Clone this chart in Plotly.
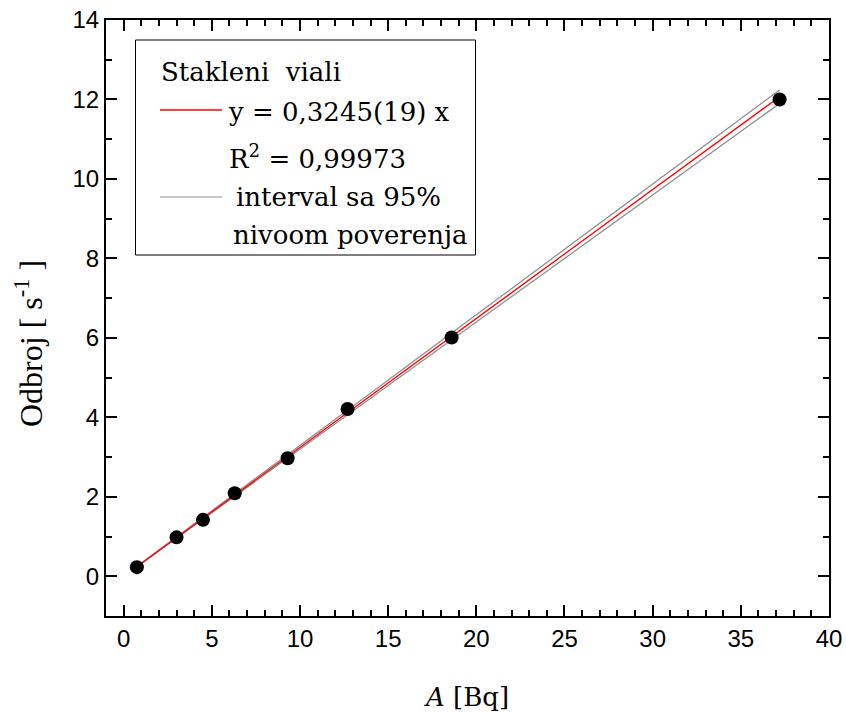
import plotly.graph_objects as go

# ---- data ----
activity_bq = [0.75, 3.0, 4.5, 6.3, 9.3, 12.7, 18.6, 37.2]
count_rate = [0.23, 0.98, 1.42, 2.09, 2.97, 4.21, 6.01, 12.0]

fit_x = [0.75, 37.2]
fit_y = [0.24, 12.07]
upper_y = [0.25, 12.24]
lower_y = [0.24, 11.90]

x_ticks = [0, 5, 10, 15, 20, 25, 30, 35, 40]
y_ticks = [0, 2, 4, 6, 8, 10, 12, 14]

legend_title = "Stakleni  viali"
fit_label = "y = 0,3245(19) x"
r2_label = "R<sup>2</sup> = 0,99973"
band_label1 = "interval sa 95%"
band_label2 = "nivoom poverenja"
x_title = "<i>A</i> [Bq]"
y_title = "Odbroj [ s<sup>-1</sup> ]"

# ---- layout geometry (screen pixels; page body margin removed by post_script) ----
W, H = 846, 713
L, R, T, B = 106, 829, 20, 616  # plot area
PW, PH = R - L, B - T


def px(x):
    return (x - L) / PW


def py(y):
    return (B - y) / PH


SERIF = "DejaVu Serif, Liberation Serif, serif"
SERIF2 = "Liberation Serif, DejaVu Serif, serif"
TICKFONT = "Liberation Sans, Arial, sans-serif"

fig = go.Figure()
fig.add_trace(go.Scatter(x=fit_x, y=upper_y, mode="lines",
                         line=dict(color="#8c8c8c", width=1.3), showlegend=False))
fig.add_trace(go.Scatter(x=fit_x, y=lower_y, mode="lines",
                         line=dict(color="#8c8c8c", width=1.3), showlegend=False))
fig.add_trace(go.Scatter(x=fit_x, y=fit_y, mode="lines",
                         line=dict(color="#ff0000", width=1.3), showlegend=False))
fig.add_trace(go.Scatter(x=activity_bq, y=count_rate, mode="markers",
                         marker=dict(color="black", size=14), showlegend=False))

axis_common = dict(
    showline=True, linecolor="black", linewidth=2, mirror="allticks",
    ticks="inside", ticklen=11, tickwidth=2, tickcolor="black",
    showgrid=False, zeroline=False, automargin=False,
    ticklabeloverflow="allow",
    tickfont=dict(family=TICKFONT, size=24, color="black"),
)

fig.update_xaxes(
    range=[-1, 40], tickvals=x_ticks,
    minor=dict(ticks="inside", dtick=1, tick0=0, ticklen=6, tickwidth=1.5, tickcolor="black", showgrid=False),
    **axis_common,
)
fig.update_yaxes(
    range=[-1, 14], tickvals=y_ticks,
    minor=dict(ticks="inside", dtick=1, tick0=0, ticklen=6, tickwidth=1.5, tickcolor="black", showgrid=False),
    **axis_common,
)

shapes = [
    dict(type="rect", xref="paper", yref="paper", x0=px(135.5), x1=px(475.5), y0=py(255), y1=py(40),
         line=dict(color="black", width=1), fillcolor="white", layer="above"),
    dict(type="line", xref="paper", yref="paper", x0=px(160), x1=px(222), y0=py(110), y1=py(110),
         line=dict(color="#ff0000", width=1.3)),
    dict(type="line", xref="paper", yref="paper", x0=px(160), x1=px(222), y0=py(197), y1=py(197),
         line=dict(color="#b4b4b4", width=1.3)),
]

ann_font = dict(family=SERIF, size=26, color="black")
annotations = []
for text, x, y in [
    (legend_title, 159, 72),
    (fit_label, 226, 112),
    (r2_label, 227, 157),
    (band_label1, 234, 197),
    (band_label2, 231, 235),
]:
    annotations.append(dict(text=text, x=px(x), y=py(y), xref="paper", yref="paper",
                            xanchor="left", yanchor="middle", showarrow=False, font=ann_font))

annotations.append(dict(text=x_title, x=px(466), y=py(697), xref="paper", yref="paper",
                        xanchor="center", yanchor="middle", showarrow=False,
                        font=dict(family=SERIF, size=26, color="black")))
annotations.append(dict(text=y_title, x=px(29), y=py(344), xref="paper", yref="paper",
                        xanchor="center", yanchor="middle", showarrow=False, textangle=-90,
                        font=dict(family=SERIF2, size=32, color="black")))

fig.update_layout(
    width=W, height=H,
    margin=dict(l=L, r=W - R, t=T, b=H - B),
    plot_bgcolor="white", paper_bgcolor="white",
    shapes=shapes, annotations=annotations,
    showlegend=False,
)

fig.write_html("out.html", config={"displayModeBar": False},
               post_script="document.body.style.margin='0px';")
